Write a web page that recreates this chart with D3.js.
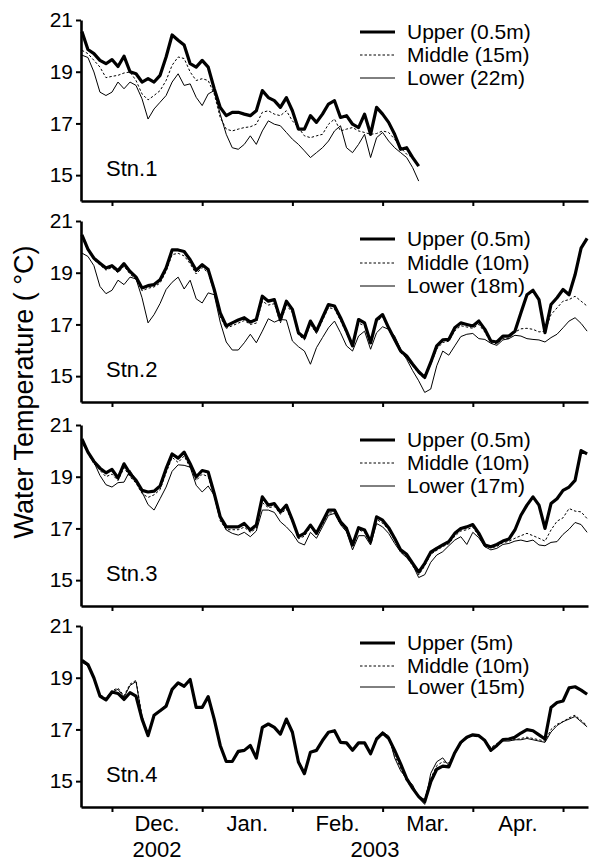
<!DOCTYPE html>
<html>
<head>
<meta charset="utf-8">
<script src="https://cdn.jsdelivr.net/npm/d3@7"></script>
<style>
  html, body { margin: 0; padding: 0; background: #fff; }
  svg { display: block; }
  text { font-family: "Liberation Sans", Arial, Helvetica, sans-serif; fill: #000; }
</style>
</head>
<body>
<div id="chart"></div>
<script>
// ---------- DATA ----------
// day offsets relative to 1 Dec 2002 (2-day sampling)
const days = [-10,-8,-6,-4,-2,0,2,4,6,8,10,12,14,16,18,20,22,24,26,28,30,32,34,36,38,40,42,44,46,48,50,52,54,56,58,60,62,64,66,68,70,72,74,76,78,80,82,84,86,88,90,92,94,96,98,100,102,104,106,108,110,112,114,116,118,120,122,124,126,128,130,132,134,136,138,140,142,144,146,148,150,152,154,156,158];

const monthTicks = [0, 30, 60, 90, 120, 150];
const monthLabelPos = [15, 45, 75, 105, 135];
const monthLabels = ["Dec.", "Jan.", "Feb.", "Mar.", "Apr."];
const yearLabelPos = [15, 87.5];
const yearLabels = ["2002", "2003"];
const yTicks = [15, 17, 19, 21];
const stations = ["Stn.1", "Stn.2", "Stn.3", "Stn.4"];
const seriesNames = ["Upper", "Middle", "Lower"];
const depthLabels = [
  ["Upper (0.5m)", "Middle (15m)", "Lower (22m)"],
  ["Upper (0.5m)", "Middle (10m)", "Lower (18m)"],
  ["Upper (0.5m)", "Middle (10m)", "Lower (17m)"],
  ["Upper (5m)", "Middle (10m)", "Lower (15m)"]
];

// Stn.1 (record ends early March)
const stn1Upper = [20.55,19.86,19.70,19.44,19.31,19.47,19.2,19.6,19.0,18.92,18.6,18.73,18.6,18.86,19.57,20.42,20.22,20.03,19.31,19.18,19.44,19.18,18.34,17.62,17.3,17.43,17.43,17.36,17.3,17.49,18.27,18.0,17.88,17.62,18.0,17.49,16.78,16.78,17.3,17.04,17.36,17.75,17.88,17.23,17.3,16.97,16.84,17.36,16.58,17.62,17.36,17.04,16.58,16.0,16.06,15.68,15.35];
const stn1Middle = [19.83,19.7,19.44,19.18,18.77,18.82,18.86,18.95,18.99,18.66,18.14,17.91,18.08,18.27,18.66,19.25,19.57,19.51,18.99,18.66,18.73,18.66,18.14,17.23,16.78,16.71,16.78,16.84,16.87,16.97,17.43,17.49,17.36,17.3,17.49,17.1,16.84,16.52,16.45,16.52,16.58,16.97,17.17,16.71,16.78,16.84,16.71,16.65,16.58,16.61,16.71,16.65,16.39,16.06,15.81,15.68,15.35];
const stn1Lower = [19.64,19.55,18.99,18.21,18.08,18.21,18.6,18.34,18.6,18.47,17.95,17.17,17.56,17.82,18.08,18.6,18.92,18.47,18.53,18.01,17.69,18.14,18.27,17.36,16.58,16.06,16.0,16.19,16.52,16.19,16.71,17.1,16.97,16.91,16.65,16.39,16.19,15.94,15.68,15.87,16.06,16.32,16.71,16.91,16.06,15.87,16.19,16.58,15.68,16.45,16.65,16.32,16.06,15.87,15.68,15.29,14.77];

// Stn.2
const stn2Upper = [20.46,19.91,19.56,19.37,19.18,19.27,19.08,19.35,19.05,18.83,18.41,18.5,18.54,18.73,19.18,19.88,19.88,19.82,19.5,19.09,19.31,19.12,18.35,17.45,16.94,17.06,17.17,17.26,17.09,17.19,18.09,17.9,17.96,17.19,17.9,17.58,16.68,16.49,17.13,16.74,17.26,17.77,17.71,17.26,16.74,16.17,17.19,17.06,16.29,17.19,17.38,16.87,16.42,15.97,15.78,15.46,15.17,14.95,15.53,16.17,16.4,16.42,16.87,17.06,17.0,16.94,17.13,16.81,16.36,16.32,16.55,16.55,16.74,17.45,18.15,18.32,17.96,16.68,17.77,18.03,18.35,18.15,18.92,19.95,20.33];
const stn2Middle = [20.4,19.85,19.5,19.3,19.1,19.2,19.0,19.25,18.95,18.75,18.3,18.4,18.45,18.6,19.05,19.7,19.75,19.65,19.35,18.95,19.2,19.0,18.25,17.3,16.85,16.95,17.05,17.15,17.0,17.05,17.9,17.75,17.8,17.05,17.75,17.45,16.6,16.4,17.0,16.65,17.15,17.65,17.6,17.15,16.65,16.15,17.05,16.95,16.25,17.1,17.3,16.8,16.35,15.9,15.7,15.4,15.1,14.9,15.45,16.05,16.3,16.35,16.75,16.95,16.9,16.85,17.0,16.7,16.3,16.25,16.45,16.45,16.7,16.83,16.85,16.81,16.71,16.74,17.38,17.64,17.9,17.96,18.09,17.9,17.71];
const stn2Lower = [19.76,19.63,19.27,18.47,18.19,18.32,18.71,18.54,18.83,18.76,18.03,17.06,17.38,17.81,18.35,18.63,18.83,18.37,18.71,17.99,17.83,18.22,18.15,17.09,16.32,16.01,16.01,16.29,16.62,16.29,16.74,17.22,17.09,17.19,17.17,16.36,16.14,15.97,15.46,16.1,16.49,16.87,17.13,16.68,16.17,15.97,16.55,16.74,16.04,16.68,16.91,16.81,16.55,16.04,15.65,15.21,14.82,14.37,14.5,15.4,15.97,15.81,16.17,16.53,16.62,16.65,16.45,16.42,16.27,16.19,16.4,16.45,16.58,16.55,16.45,16.42,16.4,16.32,16.49,16.62,16.87,17.13,17.26,17.04,16.74];

// Stn.3
const stn3Upper = [20.46,19.95,19.59,19.33,19.15,19.28,18.95,19.5,19.12,18.86,18.47,18.41,18.44,18.64,19.31,19.88,19.72,19.95,19.5,18.99,19.24,19.18,18.35,17.45,17.06,17.06,17.06,17.19,16.94,17.13,18.22,17.9,17.96,17.64,17.9,17.32,16.68,16.81,17.13,16.81,17.26,17.71,17.71,17.26,17.0,16.36,17.03,16.94,16.49,17.45,17.32,17.03,16.62,16.17,16.0,15.65,15.31,15.65,16.08,16.23,16.36,16.49,16.81,17.0,17.06,17.15,16.81,16.36,16.29,16.38,16.51,16.59,16.94,17.51,17.9,18.22,17.9,17.0,17.96,18.15,18.47,18.6,18.86,20.01,19.88];
const stn3Middle = [20.4,19.9,19.5,19.25,19.0,19.1,18.85,19.35,19.0,18.75,18.35,18.2,18.3,18.5,19.15,19.75,19.55,19.8,19.35,18.85,19.1,19.0,18.25,17.3,16.95,16.95,16.95,17.05,16.85,17.0,18.0,17.8,17.85,17.55,17.75,17.25,16.6,16.7,17.05,16.75,17.15,17.6,17.6,17.15,16.9,16.3,16.95,16.85,16.4,17.35,17.2,16.95,16.55,16.1,15.9,15.55,15.2,15.55,16.0,16.15,16.3,16.4,16.7,16.9,16.95,17.05,16.7,16.3,16.25,16.3,16.45,16.5,16.62,16.72,16.81,16.72,16.62,16.51,16.94,17.28,17.41,17.77,17.67,17.64,17.38];
const stn3Lower = [20.33,19.92,19.56,19.05,18.69,18.6,18.77,18.79,19.24,18.86,18.41,17.92,17.71,18.15,18.6,19.21,19.46,19.44,19.37,18.67,18.41,18.64,18.28,17.38,16.94,16.81,16.74,16.85,16.68,16.9,17.71,17.71,17.62,17.26,17.06,16.81,16.46,16.36,16.85,16.62,17.06,17.51,17.58,17.15,16.87,16.17,16.72,16.72,16.36,17.19,17.06,16.81,16.42,16.08,15.87,15.59,15.1,15.21,15.69,15.97,16.1,16.33,16.55,16.68,16.38,16.85,16.64,16.29,16.17,16.23,16.38,16.42,16.51,16.55,16.49,16.55,16.36,16.33,16.46,16.49,16.77,16.97,17.23,17.15,16.85];

// Stn.4
const stn4Upper = [19.67,19.51,18.99,18.29,18.14,18.45,18.39,18.16,18.42,18.29,17.4,16.76,17.55,17.72,17.9,18.55,18.8,18.67,18.93,17.85,17.85,18.27,17.4,16.38,15.76,15.76,16.15,16.19,16.38,15.89,17.08,17.21,17.08,16.82,17.4,16.89,15.74,15.29,16.12,16.19,16.57,16.89,16.95,16.5,16.48,16.19,16.48,16.48,16.06,16.63,16.86,16.66,16.19,15.67,15.1,14.72,14.4,14.2,14.97,15.46,15.58,15.55,16.1,16.5,16.7,16.79,16.76,16.57,16.19,16.38,16.61,16.63,16.7,16.86,16.99,16.95,16.79,16.63,17.85,18.04,18.1,18.61,18.65,18.52,18.36];
const stn4Middle = [19.65,19.5,19.0,18.35,18.2,18.5,18.6,18.3,18.75,18.9,17.5,16.8,17.55,17.7,17.95,18.6,18.8,18.65,18.95,17.85,17.85,18.25,17.4,16.4,15.8,15.8,16.15,16.2,16.4,15.9,17.05,17.2,17.1,16.85,17.4,16.9,15.75,15.3,16.1,16.2,16.55,16.9,16.95,16.5,16.5,16.2,16.5,16.5,16.1,16.7,16.9,16.65,16.0,15.5,15.0,14.7,14.4,14.3,15.1,15.6,15.75,15.7,16.1,16.5,16.7,16.75,16.7,16.55,16.3,16.45,16.6,16.6,16.6,16.65,16.7,16.65,16.6,16.55,17.0,17.2,17.3,17.45,17.55,17.35,17.15];
const stn4Lower = [19.6,19.45,19.0,18.3,18.15,18.45,18.55,18.25,18.7,18.85,17.45,16.75,17.5,17.75,17.95,18.55,18.75,18.7,18.9,17.85,17.9,18.25,17.45,16.4,15.75,15.75,16.1,16.2,16.35,15.9,17.05,17.2,17.05,16.85,17.35,16.95,15.8,15.35,16.1,16.2,16.55,16.9,16.9,16.5,16.45,16.2,16.45,16.5,16.05,16.65,16.9,16.75,15.9,15.4,15.1,14.85,14.35,14.1,15.3,15.75,15.9,15.6,16.05,16.45,16.65,16.8,16.75,16.6,16.25,16.4,16.55,16.55,16.6,16.6,16.65,16.6,16.55,16.5,16.9,17.15,17.3,17.4,17.5,17.3,17.1];

const stationSeries = [
  [stn1Upper, stn1Middle, stn1Lower],
  [stn2Upper, stn2Middle, stn2Lower],
  [stn3Upper, stn3Middle, stn3Lower],
  [stn4Upper, stn4Middle, stn4Lower]
];

// ---------- LAYOUT ----------
const W = 589, H = 861;
const left = 81, right = 588;
const panelTops = [20, 221, 425, 626];
const panelH = 181;
const legendOffsets = [[12, 35, 58], [18, 42, 65], [15, 38, 61], [17, 40, 61]];
const seriesStyle = [
  { width: 3.2, dash: null },
  { width: 1, dash: "2.5,2" },
  { width: 1, dash: null }
];

const svg = d3.select("#chart").append("svg")
  .attr("width", W).attr("height", H);

const x = d3.scaleLinear().domain([-10.3, 158.3]).range([left, right]);

stations.forEach((stn, i) => {
  const top = panelTops[i];
  const y = d3.scaleLinear().domain([14, 21]).range([top + panelH, top]);
  const g = svg.append("g");

  // series: draw lower first, upper on top
  [2, 1, 0].forEach(k => {
    const vals = stationSeries[i][k];
    const pts = days.map((d, j) => [d, vals[j]]).filter(p => p[1] != null);
    const line = d3.line().x(p => x(p[0])).y(p => y(p[1]));
    g.append("path")
      .datum(pts)
      .attr("fill", "none")
      .attr("stroke", "#000")
      .attr("stroke-width", seriesStyle[k].width)
      .attr("stroke-linejoin", "round")
      .attr("stroke-dasharray", seriesStyle[k].dash)
      .attr("d", line);
  });

  // y axis
  const ya = g.append("g").attr("transform", `translate(${left},0)`)
    .call(d3.axisLeft(y).tickValues(yTicks).tickSize(5).tickSizeOuter(0)
      .tickPadding(3).tickFormat(d3.format("d")));
  ya.select(".domain").attr("stroke-width", 2.6);
  ya.selectAll(".tick line").attr("stroke-width", 2);
  ya.selectAll(".tick text").attr("font-size", 21)
    .style("font-family", "'Liberation Sans', Arial, sans-serif");

  // x axis
  const xa = g.append("g").attr("transform", `translate(0,${top + panelH})`)
    .call(d3.axisBottom(x).tickValues(monthTicks).tickSize(5).tickSizeOuter(0).tickFormat(""));
  xa.select(".domain").attr("stroke-width", 2.6);
  xa.selectAll(".tick line").attr("stroke-width", 2);

  // station label
  g.append("text")
    .attr("x", 106).attr("y", y(15) + 1)
    .attr("font-size", 22)
    .text(stn);

  // legend
  seriesNames.forEach((s, k) => {
    const ly = top + legendOffsets[i][k];
    g.append("line")
      .attr("x1", 360).attr("x2", 395)
      .attr("y1", ly).attr("y2", ly)
      .attr("stroke", "#000")
      .attr("stroke-width", seriesStyle[k].width)
      .attr("stroke-dasharray", seriesStyle[k].dash);
    g.append("text")
      .attr("x", 407).attr("y", ly)
      .attr("dy", "0.35em")
      .attr("font-size", 21)
      .text(depthLabels[i][k]);
  });
});

// month labels (bottom panel)
svg.append("g").selectAll("text")
  .data(monthLabels)
  .join("text")
  .attr("x", (d, j) => x(monthLabelPos[j]))
  .attr("y", 831)
  .attr("text-anchor", "middle")
  .attr("font-size", 22)
  .text(d => d);

svg.append("g").selectAll("text")
  .data(yearLabels)
  .join("text")
  .attr("x", (d, j) => x(yearLabelPos[j]))
  .attr("y", 857)
  .attr("text-anchor", "middle")
  .attr("font-size", 22)
  .text(d => d);

// y axis title
svg.append("text")
  .attr("transform", "translate(33,392) rotate(-90)")
  .attr("text-anchor", "middle")
  .attr("font-size", 27)
  .text("Water Temperature ( \u00B0C)");
</script>
</body>
</html>
